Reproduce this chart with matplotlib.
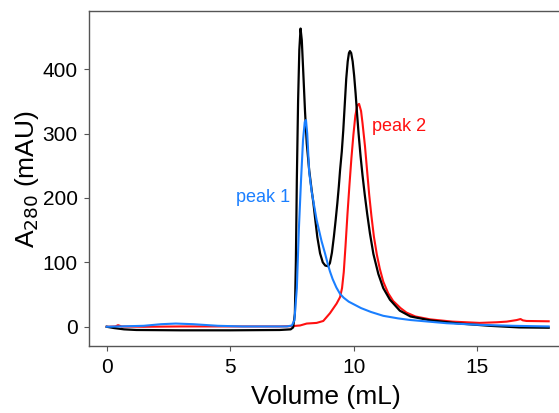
import matplotlib
matplotlib.use("Agg")
import matplotlib.pyplot as plt

plt.rcParams['font.family'] = ['Liberation Sans', 'DejaVu Sans']

black_x = [0.0, 0.3, 0.7, 1.2, 3.0, 5.0, 7.0, 7.45, 7.55, 7.62, 7.66, 7.70, 7.75, 7.80, 7.85,
           7.90, 7.96, 8.03, 8.10, 8.20, 8.30, 8.37, 8.45, 8.53, 8.64, 8.75, 8.85, 8.97, 9.04,
           9.12, 9.20, 9.27, 9.34, 9.40, 9.45, 9.52, 9.58, 9.64, 9.70, 9.76, 9.81, 9.85,
           9.90, 9.96, 10.02, 10.08, 10.14, 10.20, 10.28, 10.36, 10.45, 10.55, 10.66, 10.80,
           11.0, 11.2, 11.47, 11.87, 12.3, 13.1, 14.3, 15.5, 16.7, 17.9]
black_y = [0, -2, -4, -5, -5.5, -5.5, -5, -4, -1, 20, 100, 230, 350, 430, 463,
           445, 395, 335, 285, 243, 212, 192, 165, 139, 114, 100, 95, 94, 99,
           115, 140, 165, 192, 218, 243, 272, 305, 345, 385, 412, 425, 428,
           425, 412, 390, 362, 330, 300, 265, 235, 205, 175, 145, 113,
           82, 60, 42, 25, 16, 10, 5, 1.5, -1, -1.5]

blue_x = [0.0, 0.5, 1.5, 2.2, 2.8, 3.5, 4.5, 5.5, 7.3, 7.5, 7.6, 7.7, 7.78, 7.87, 7.95,
          8.02, 8.07, 8.12, 8.20, 8.30, 8.50, 8.70, 8.84, 8.95, 9.04, 9.15, 9.30, 9.45,
          9.60, 9.80, 10.0, 10.3, 10.7, 11.2, 11.8, 12.3, 13.77, 15.1, 16.45, 17.9]
blue_y = [0, 0.5, 1.5, 4, 5, 4, 1.5, 0.5, 0.5, 2, 10, 60, 150, 228, 290,
          318, 321, 300, 240, 210, 166, 133, 114, 98, 86, 74, 61, 51,
          45, 39, 35, 29, 23, 17, 13, 10.5, 5.5, 3, 1.5, 0.5]

red_x = [0.0, 0.35, 0.46, 0.6, 1.5, 3.0, 5.0, 7.0, 7.5, 7.83, 8.1, 8.5, 8.77, 9.04, 9.31,
         9.45, 9.53, 9.60, 9.67, 9.75, 9.83, 9.91, 9.99, 10.07, 10.15, 10.22, 10.30, 10.36,
         10.46, 10.55, 10.63, 10.72, 10.82, 10.94, 11.06, 11.2, 11.4, 11.6, 11.9, 12.14,
         12.5, 13.1, 14.0, 15.1, 15.8, 16.2, 16.6, 16.76, 16.85, 17.0, 17.9]
red_y = [0, 0.5, 2.5, 0.5, 0, 0.5, 0.5, 0.5, 1, 2, 5, 6, 9, 21, 36,
         46, 60, 85, 125, 175, 220, 262, 298, 328, 344, 346, 335, 316,
         280, 240, 205, 172, 140, 112, 90, 70, 52, 40, 29, 22,
         16, 11.5, 8, 6, 7, 8, 10.4, 12, 10, 9, 8.5]

x_ticks = [0, 5, 10, 15]
y_ticks = [0, 100, 200, 300, 400]

fig = plt.figure(figsize=(5.59, 4.13), dpi=100)
ax = fig.add_axes([0.160, 0.162, 0.845, 0.811])

c_black = 'black'
c_blue = '#1a7fff'
c_red = '#ff1010'

ax.plot(red_x, red_y, color=c_red, lw=1.5, zorder=2)
ax.plot(black_x, black_y, color=c_black, lw=1.6, zorder=3)
ax.plot(blue_x, blue_y, color=c_blue, lw=1.5, zorder=4)

ax.set_xlim(-0.70, 18.43)
ax.set_ylim(-30, 490)
ax.set_xticks(x_ticks)
ax.set_yticks(y_ticks)
ax.tick_params(direction='out', length=3.5, width=0.8, color='#555555',
               labelsize=15, pad=5)
for s in ['left', 'bottom', 'top']:
    ax.spines[s].set_color('#555555')
    ax.spines[s].set_linewidth(1.0)
ax.spines['right'].set_visible(False)

ax.set_xlabel('Volume (mL)', fontsize=19, labelpad=6)
ax.set_ylabel('A$_{280}$ (mAU)', fontsize=19, labelpad=1)

ax.text(7.43, 200, 'peak 1', color=c_blue, fontsize=13, ha='right', va='center')
ax.text(10.74, 311, 'peak 2', color=c_red, fontsize=13, ha='left', va='center')

fig.savefig('out.png', dpi=100)
